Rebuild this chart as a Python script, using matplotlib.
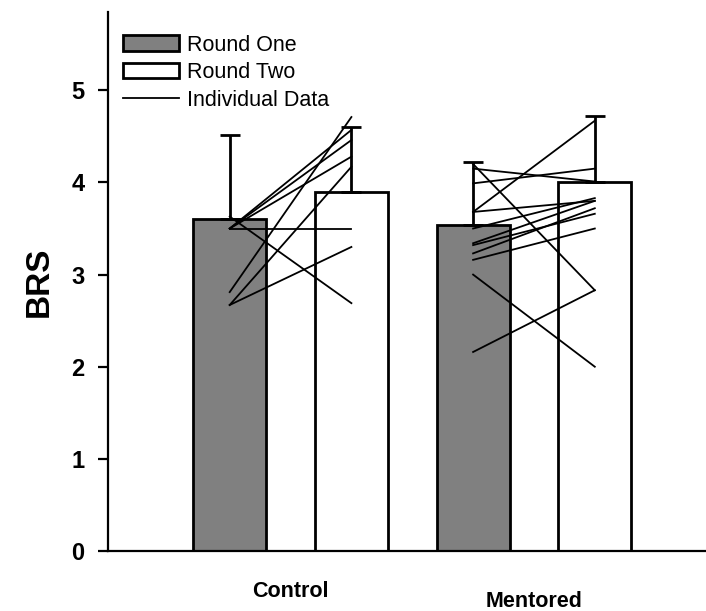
import numpy as np
import matplotlib.pyplot as plt
from matplotlib.patches import Patch
from matplotlib.lines import Line2D
from matplotlib.transforms import blended_transform_factory

plt.rcParams['font.family'] = ['Liberation Sans', 'DejaVu Sans']

groups = ['Control', 'Mentored']
round_one = [3.60, 3.54]
round_two = [3.90, 4.00]
round_one_err = [0.92, 0.68]
round_two_err = [0.70, 0.72]

# paired scores, round one -> round two
control_r1 = [2.81, 2.67, 2.67, 3.50, 3.50, 3.50, 3.50, 3.63]
control_r2 = [4.71, 4.17, 3.30, 4.57, 4.46, 4.28, 3.50, 2.69]
mentored_r1 = [4.20, 4.15, 3.99, 3.68, 3.68, 3.50, 3.34, 3.32, 3.23, 3.16, 3.00, 2.16]
mentored_r2 = [2.83, 4.01, 4.15, 4.67, 3.80, 3.83, 3.80, 3.66, 3.72, 3.50, 2.00, 2.83]

fig = plt.figure(figsize=(7.06, 6.11), dpi=100)
ax = fig.add_axes([108 / 706, 60 / 611, 608.5 / 706, 539 / 611])

x1 = np.arange(len(groups)) * 2.0
x2 = x1 + 1.0
w = 0.6
lw = 2.0

ax.bar(x1, round_one, w, color='#808080', edgecolor='black', linewidth=lw, zorder=2)
ax.bar(x2, round_two, w, color='white', edgecolor='black', linewidth=lw, zorder=2)
ax.errorbar(x1, round_one, yerr=[np.zeros(len(groups)), round_one_err], fmt='none',
            ecolor='black', elinewidth=lw, capsize=7, capthick=lw, zorder=3)
ax.errorbar(x2, round_two, yerr=[np.zeros(len(groups)), round_two_err], fmt='none',
            ecolor='black', elinewidth=lw, capsize=7, capthick=lw, zorder=3)

for i, (r1, r2) in enumerate([(control_r1, control_r2), (mentored_r1, mentored_r2)]):
    for a, b in zip(r1, r2):
        ax.plot([x1[i], x2[i]], [a, b], color='black', linewidth=1.3, zorder=4)

ax.set_xlim(-1, 4)
ax.set_ylim(0, 5.85)
ax.set_yticks(range(6))
ax.set_xticks([])
ax.tick_params(axis='y', direction='out', length=7, width=1.6, pad=10, labelsize=17)
for lab in ax.get_yticklabels():
    lab.set_fontweight('bold')
for s in ['top', 'right']:
    ax.spines[s].set_visible(False)
for s in ['left', 'bottom']:
    ax.spines[s].set_linewidth(1.6)

ax.set_ylabel('BRS', fontsize=24, fontweight='bold', labelpad=12)

trans = blended_transform_factory(ax.transData, ax.transAxes)
label_y = [-0.076, -0.093]
for xc, name, yy in zip((x1 + x2) / 2, groups, label_y):
    ax.text(xc, yy, name, transform=trans, ha='center', va='center',
            fontsize=15.5, fontweight='bold')

handles = [Patch(facecolor='#808080', edgecolor='black', linewidth=lw),
           Patch(facecolor='white', edgecolor='black', linewidth=lw),
           Line2D([], [], color='black', linewidth=1.3)]
ax.legend(handles, ['Round One', 'Round Two', 'Individual Data'],
          loc='upper left', bbox_to_anchor=(0.025, 0.958), frameon=False,
          fontsize=15.5, handlelength=2.6, handleheight=0.75, handletextpad=0.35,
          labelspacing=0.3, borderpad=0, borderaxespad=0)

fig.savefig('out.png', dpi=100)
